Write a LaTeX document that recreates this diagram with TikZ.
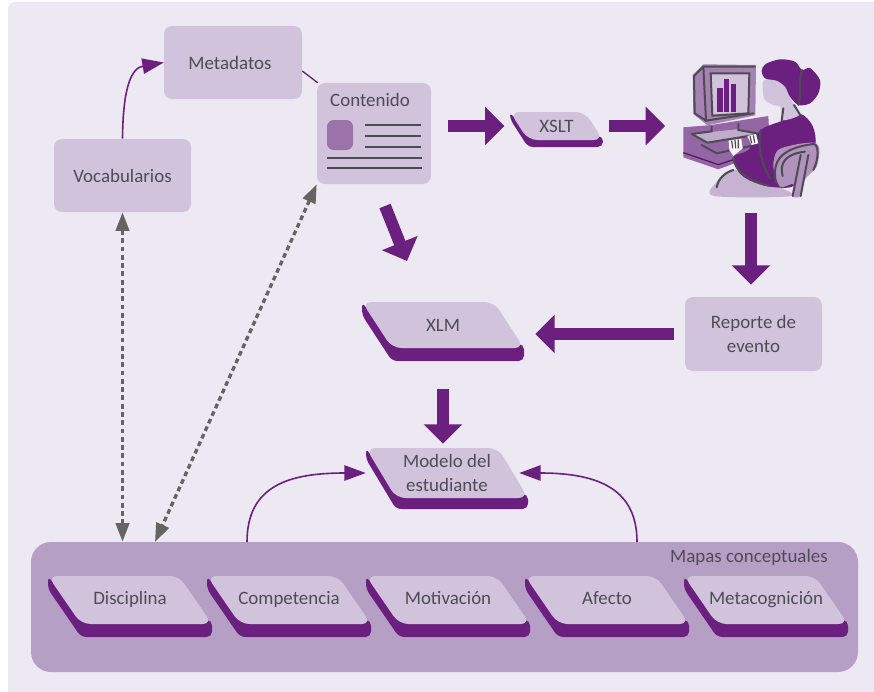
\documentclass[tikz,border=0pt]{standalone}
\usepackage{xcolor}
\usepackage{fontspec}
\setmainfont{Carlito}
\usetikzlibrary{arrows.meta}

\definecolor{pagefill}{HTML}{EDE9F3}
\definecolor{boxfill}{HTML}{D1C3DC}
\definecolor{deep}{HTML}{6B2080}
\definecolor{mapfill}{HTML}{B69FC5}
\definecolor{midfill}{HTML}{9B72A9}
\definecolor{ink}{HTML}{4F4B55}
\definecolor{dashgray}{HTML}{646464}

\tikzset{
    softbox/.style={rectangle, rounded corners=6pt, fill=boxfill, text=ink, align=center, inner sep=0pt, font=\fontsize{14.2}{17.5}\selectfont},
    slanttext/.style={rectangle, text=ink, align=center, inner sep=0pt, font=\fontsize{14.2}{17.5}\selectfont},
    bigarrow/.style={draw=deep, line width=9pt, -{Triangle[length=14.5pt,width=28pt]}},
    thinarrow/.style={draw=deep, line width=1.2pt, -{Triangle[length=16pt,width=11.5pt]}},
    dasharrow/.style={draw=dashgray, line width=2.5pt, dash pattern=on 3.6pt off 2.6pt, {Triangle[length=14pt,width=10pt]}-{Triangle[length=14pt,width=10pt]}},
    textline/.style={draw=ink, line width=0.8pt},
    figline/.style={draw=ink, line width=1.5pt, line cap=round}
}

% name, left, top, width, height, depth, slant, text
\newcommand{\slantbox}[8]{
    \fill[deep, rounded corners=4pt] (#2,#3) -- (#2,#3+#6) -- (#2+#7,#3+#5+#6) -- (#2+#4,#3+#5+#6) -- (#2+#4,#3+#5-4) -- (#2+#7,#3+#5-4) -- cycle;
    \fill[boxfill, rounded corners=7pt] (#2,#3) -- (#2+#4-#7,#3) -- (#2+#4,#3+#5) -- (#2+#7,#3+#5) -- cycle;
    \node[slanttext, minimum width=#4*0.75pt, minimum height=#5*0.75pt] (#1) at (#2+#4/2,#3+#5/2) {#8};
}

\begin{document}
\begin{tikzpicture}[x=0.75pt, y=-0.75pt]
    \useasboundingbox (0,0) rectangle (874,692);
    \fill[pagefill, rounded corners=5pt] (8,2) rectangle (880,698);

    % upper boxes
    \node[softbox, minimum width=102.75pt, minimum height=54.75pt] (vocabularios) at (122.5,175.5) {Vocabularios};
    \node[softbox, minimum width=103.5pt, minimum height=54.75pt] (metadatos) at (233,62.5) {Metadatos\hspace{4.5pt}};
    \node[softbox, minimum width=85.5pt, minimum height=75.75pt] (contenido) at (374,133.5) {};
    \node[slanttext] (contenidotxt) at (370,100) {Contenido};
    \fill[midfill, rounded corners=5pt] (327,120) rectangle (353,150);
    \foreach \y in {125,136,147} {
        \draw[textline] (365,\y) -- (421,\y);
    }
    \foreach \y in {158,168} {
        \draw[textline] (327,\y) -- (422,\y);
    }
    \node[softbox, minimum width=102.75pt, minimum height=55.5pt] (reporte) at (753.5,334) {Reporte de\\evento};

    % slanted boxes
    \slantbox{xslt}{510}{112}{93}{28}{7}{18}{XSLT}
    \slantbox{xlm}{362}{302}{162}{46}{13}{30}{XLM}
    \slantbox{modelo}{366}{448}{162}{50}{11}{30}{Modelo del\\estudiante}

    % concept maps
    \node[rectangle, rounded corners=15pt, fill=mapfill, minimum width=620.25pt, minimum height=97.5pt] (mapas) at (444.5,607) {};
    \node[slanttext, anchor=east] (mapastxt) at (828,557) {Mapas conceptuales};
    \foreach \x/\nm/\txt in {48/disciplina/Disciplina, 207/competencia/Competencia, 366/motivacion/Motivación, 525/afecto/Afecto, 684/metacognicion/Metacognición} {
        \slantbox{\nm}{\x}{576}{164}{48}{13}{33}{\txt\strut}
    }

    % person at the computer
    \node[rectangle, minimum width=103pt, minimum height=101pt, inner sep=0pt] (persona) at (751,130) {};
    \begin{scope}[shift={(670,50)}, x=0.25pt, y=-0.25pt]
        \fill[midfill!85!deep] (40,232) -- (125,225) -- (295,198) -- (300,300) -- (145,358) -- (40,322) -- cycle;
        \draw[draw=deep!80!black, line width=1pt] (40,308) -- (145,344) -- (290,295);
        \fill[midfill!80!boxfill] (68,75) -- (100,43) -- (258,45) -- (256,196) -- (112,226) -- (70,192) -- cycle;
        \fill[boxfill] (122,70) -- (238,70) -- (235,190) -- (127,197) -- cycle;
        \draw[figline] (122,70) -- (238,70) -- (235,190) -- (127,197) -- cycle;
        \draw[figline] (72,78) -- (100,50) -- (255,50) (100,50) -- (108,212) -- (250,190) (72,78) -- (74,190) -- (108,212);
        \fill[deep] (142,115) rectangle (158,187);
        \fill[deep] (163,87) rectangle (178,186);
        \fill[deep] (183,103) rectangle (199,185);
        \fill[boxfill!70!midfill] (65,252) -- (200,238) -- (272,252) -- (112,278) -- cycle;
        \draw[figline] (65,252) -- (125,244) -- (125,230) (205,222) -- (205,240) -- (272,252) -- (112,278) -- (65,252);
        \draw[figline] (95,285) -- (140,310) -- (255,285);
        % skirt
        \fill[boxfill!80!midfill] plot[smooth cycle] coordinates {(132,438) (140,395) (190,358) (300,400) (365,438)};
        \draw[figline] (140,412) .. controls (145,385) and (165,368) .. (190,360);
        % body
        \fill[deep] plot[smooth cycle] coordinates {(272,240) (338,212) (392,192) (428,228) (436,285) (400,340) (370,408) (300,410) (240,392) (205,365) (190,320) (235,300)};
        \draw[figline] (272,240) .. controls (262,290) and (275,345) .. (300,385);
        \draw[figline] (190,325) .. controls (195,365) and (240,395) .. (300,408);
        % chair
        \fill[midfill!60!boxfill] plot[smooth cycle] coordinates {(310,350) (322,302) (370,285) (430,278) (448,296) (440,350) (405,388) (392,438) (366,438) (370,402) (330,410)};
        \draw[figline] (318,398) .. controls (305,335) and (330,295) .. (430,282) .. controls (448,282) and (446,330) .. (430,360);
        \draw[figline] (338,378) .. controls (328,340) and (345,312) .. (405,305);
        \draw[figline] (392,315) -- (368,438) (415,315) -- (392,438);
        % head and hair
        \fill[boxfill] plot[smooth cycle] coordinates {(282,90) (278,120) (285,150) (310,165) (332,172) (338,210) (388,195) (372,165) (345,110) (320,90)};
        \fill[deep] plot[smooth cycle] coordinates {(275,62) (287,42) (330,28) (375,35) (396,60) (420,54) (450,90) (445,130) (420,160) (385,165) (360,140) (345,110) (320,92) (285,85)};
        \draw[figline] (340,175) -- (335,212) (372,165) -- (392,197) (396,60) .. controls (385,90) and (395,130) .. (385,165);
        % hands
        \fill[white!85!boxfill] (176,272) -- (214,266) -- (218,295) -- (190,318) -- (178,300) -- cycle;
        \fill[white!85!boxfill] (232,258) -- (258,252) -- (265,280) -- (245,285) -- cycle;
        \draw[draw=ink, line width=0.9pt] (185,272) -- (188,295) (195,270) -- (197,295) (205,268) -- (205,295) (240,258) -- (245,280) (250,256) -- (254,278);
    \end{scope}

    % connectors
    \draw[draw=deep, line width=1pt] (metadatos.-7) -- (contenido.138);
    \draw[thinarrow] (vocabularios.north) .. controls (123,85) and (132,68) .. (metadatos.west);
    \draw[bigarrow, shorten <=12.75pt, shorten >=4pt] (contenido.east |- xslt) -- (xslt.west);
    \draw[bigarrow, shorten <=4.5pt, shorten >=12.75pt] (xslt.east) -- (persona.west |- xslt.east);
    \draw[bigarrow, shorten <=11.25pt, shorten >=9pt] (persona.south) -- (reporte.north -| persona.south);
    \draw[bigarrow, shorten <=8.25pt, shorten >=8.25pt] (reporte.west) -- (xlm.east |- reporte.west);
    \draw[bigarrow, shorten <=30.75pt, shorten >=3pt] (xlm.south) -- (modelo.north -| xlm.south);
    \coordinate (contenidoout) at (385,206);
    \coordinate (xlmin) at (407,261);
    \draw[bigarrow] (contenidoout) -- (xlmin);
    \coordinate (mapasizq) at (247,542);
    \coordinate (mapasder) at (637,542);
    \draw[thinarrow] (mapasizq) .. controls (247,485) and (290,473) .. (modelo.west);
    \draw[thinarrow] (mapasder) .. controls (637,490) and (600,473) .. ([xshift=-6.75pt]modelo.east);
    \draw[dasharrow] (vocabularios.south) -- (mapas.north -| vocabularios.south);
    \coordinate (mapasdash) at (155,542);
    \draw[dasharrow] (contenido.south west) -- (mapasdash);
\end{tikzpicture}
\end{document}
